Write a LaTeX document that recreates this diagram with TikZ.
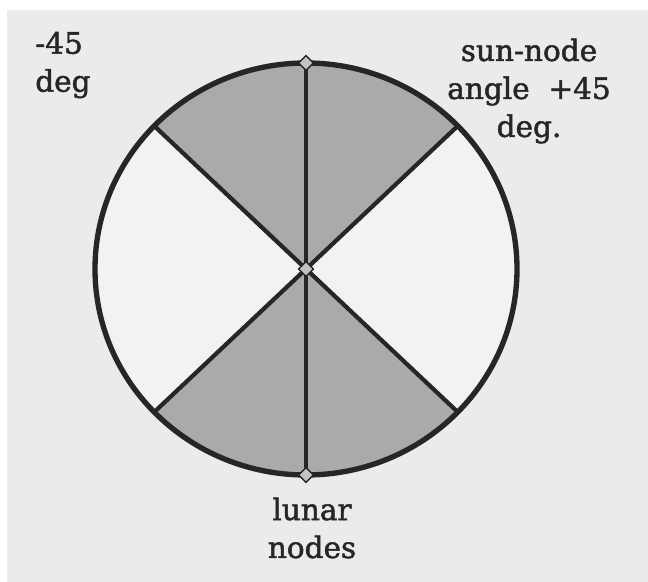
\documentclass[tikz,border=0pt]{standalone}
\usepackage{fontspec}
\setmainfont{DejaVu Serif}
\newfontfamily\lblfont{DejaVu Serif}[BoldFont={DejaVu Serif}, BoldFeatures={FakeBold=1.6}]
\usetikzlibrary{shapes.geometric}
\definecolor{paper}{RGB}{233,235,237}
\definecolor{wedge}{RGB}{170,170,171}
\definecolor{blank}{RGB}{241,242,243}
\definecolor{ink}{RGB}{38,38,38}

\begin{document}
\begin{tikzpicture}[
      x=0.025cm, y=0.025cm,
      rim/.style={draw=ink, line width=3.8pt},
      spoke/.style={draw=ink, line width=3pt},
      wedgefill/.style={fill=wedge},
      pin/.style={diamond, draw=ink, fill=wedge!70, line width=1pt, inner sep=0pt, minimum size=11pt},
      lbl/.style={font=\lblfont\bfseries\fontsize{21}{27}\selectfont, text=ink, inner sep=0pt}
    ]
      \useasboundingbox (0,0) rectangle (648,582);
      \fill[white] (0,0) rectangle (648,582);
      \fill[paper] (7,0) rectangle (648,572);

      % disc and the two shaded wedges
      \coordinate (ctr) at (306,313);
      \fill[blank] (ctr) ellipse [x radius=211, y radius=206];
      \fill[wedgefill] (ctr) -- ++(44:211 and 206) arc [start angle=44, end angle=136, x radius=211, y radius=206] -- cycle;
      \fill[wedgefill] (ctr) -- ++(-136:211 and 206) arc [start angle=-136, end angle=-44, x radius=211, y radius=206] -- cycle;
      \draw[rim] (ctr) ellipse [x radius=211, y radius=206];

      % ends of the spokes
      \path (ctr) ++(90:211 and 206) coordinate (top);
      \path (ctr) ++(-90:211 and 206) coordinate (bot);
      \path (ctr) ++(44:211 and 206) coordinate (ne);
      \path (ctr) ++(136:211 and 206) coordinate (nw);
      \path (ctr) ++(-136:211 and 206) coordinate (sw);
      \path (ctr) ++(-44:211 and 206) coordinate (se);
      \draw[spoke] (top) -- (bot);
      \draw[spoke] (nw) -- (se);
      \draw[spoke] (ne) -- (sw);

      \node[pin] (toppin) at (top) {};
      \node[pin] (midpin) at (ctr) {};
      \node[pin] (botpin) at (bot) {};

      \node[lbl, align=left, anchor=west] (minus) at (35,517) {-45\\deg};
      \node[lbl, align=center] (sunnode) at (529,491) {sun-node\\angle\ \ +45\\deg.};
      \node[lbl, align=center] (lunar) at (312,54) {lunar\\nodes};
    \end{tikzpicture}
\end{document}
